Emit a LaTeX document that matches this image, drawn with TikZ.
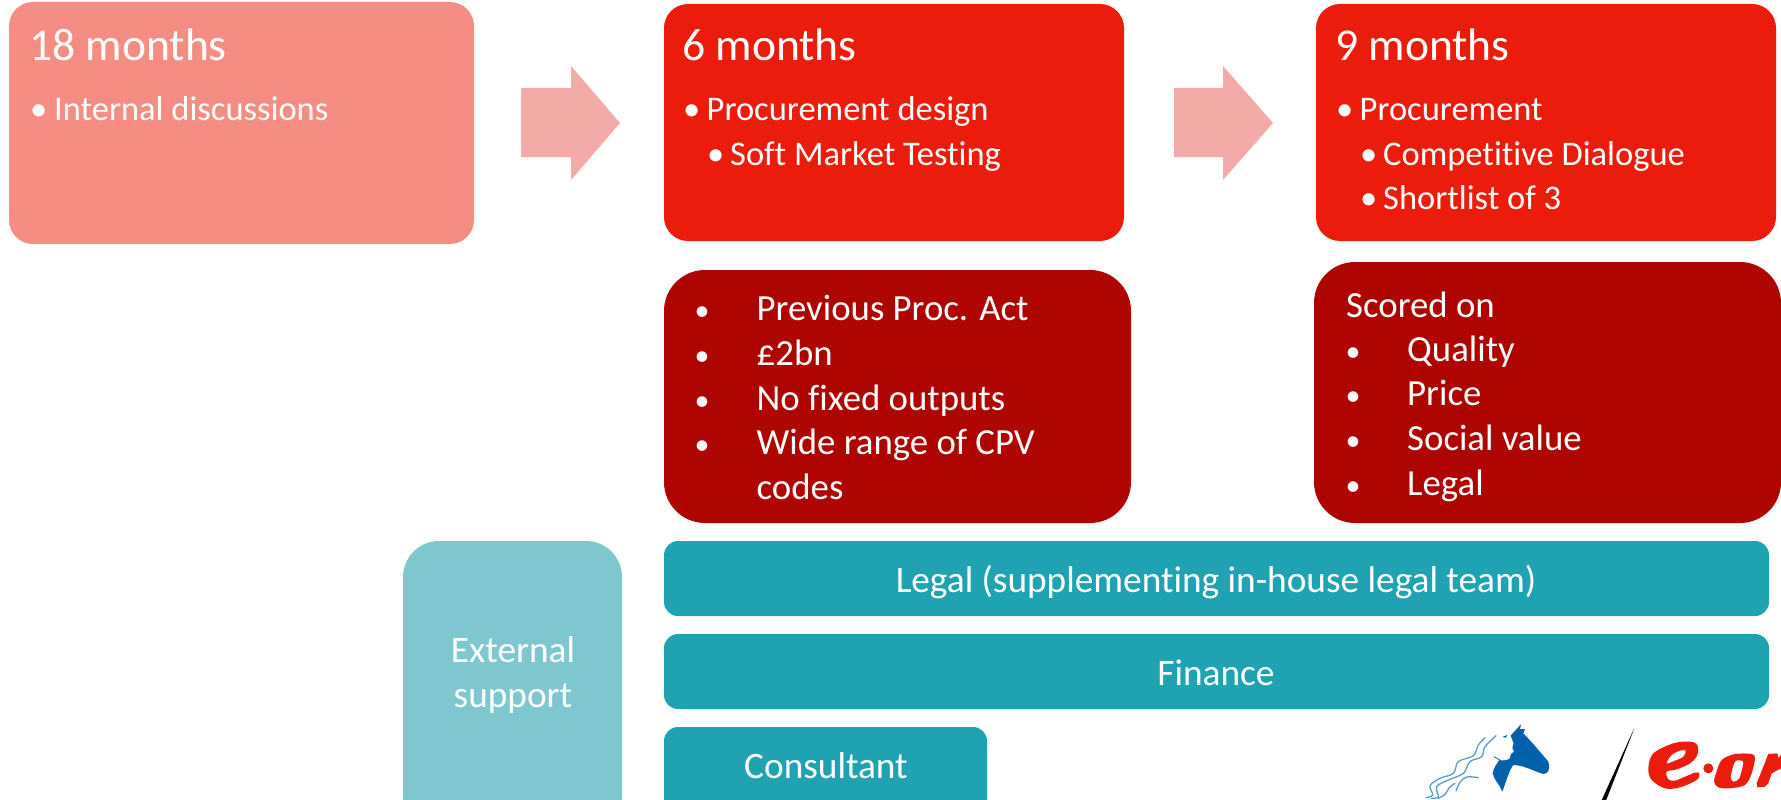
\documentclass[tikz,border=0pt]{standalone}
\usepackage{fontspec}
\setmainfont[Ligatures=NoCommon]{Carlito}
\definecolor{salmon}{HTML}{F58D83}
\definecolor{redbox}{HTML}{EB1C0C}
\definecolor{darkred}{HTML}{AF0500}
\definecolor{tealbar}{HTML}{1FA3B3}
\definecolor{lightteal}{HTML}{7FC7D0}
\definecolor{arrowpink}{HTML}{F4ABA8}
\definecolor{horseblue}{HTML}{0060A9}
\definecolor{waveblue}{HTML}{5B9BCB}
\tikzset{
  x=1pt,y=-1pt,
  boxbase/.style={inner sep=0pt,outer sep=0pt,anchor=north west},
  stepbox/.style={boxbase,rounded corners=24pt},
  notebox/.style={boxbase,fill=darkred,rounded corners=41pt},
  barbox/.style={boxbase,fill=tealbar,rounded corners=14pt},
  head/.style={inner sep=0pt,anchor=base west,text=white,font=\fontsize{45.6}{45.6}\selectfont},
  txt/.style={inner sep=0pt,anchor=base west,text=white,font=\fontsize{34.5}{34.5}\selectfont},
  bigtxt/.style={inner sep=0pt,anchor=base west,text=white,font=\fontsize{36.8}{36.8}\selectfont},
  dot/.style={inner sep=0pt,anchor=base,text=white,font=\fontsize{30}{30}\selectfont},
  ctxt/.style={inner sep=0pt,anchor=base,text=white,font=\fontsize{37.3}{37.3}\selectfont},
  flow/.style={fill=arrowpink,draw=none},
  wave/.style={draw=waveblue,line width=1.3pt,line cap=round,smooth,tension=0.6},
  logored/.style={fill=redbox,draw=none},
}
\begin{document}
\begin{tikzpicture}
\useasboundingbox (0,0) rectangle (1781,800);
\clip (0,0) rectangle (1781,800);
% boxes
\node[stepbox,fill=salmon,minimum width=465pt,minimum height=242pt] (b1) at (9,2) {};
\node[stepbox,fill=redbox,minimum width=460pt,minimum height=237pt] (b2) at (664,4) {};
\node[stepbox,fill=redbox,minimum width=460pt,minimum height=237pt] (b3) at (1316,4) {};
\node[notebox,minimum width=467pt,minimum height=253pt] (d1) at (664,270) {};
\node[notebox,minimum width=467pt,minimum height=261pt] (d2) at (1314,262) {};
\node[barbox,minimum width=1105pt,minimum height=75pt] (legal) at (664,541) {};
\node[barbox,minimum width=1105pt,minimum height=75pt] (finance) at (664,634) {};
\node[barbox,minimum width=323pt,minimum height=90pt] (cons) at (664,727) {};
\node[boxbase,fill=lightteal,rounded corners=36pt,minimum width=219pt,minimum height=290pt] (ext) at (403,541) {};
% arrows
\fill[flow] (521,88) -- (571,88) -- (571,66) -- (620,123) -- (571,180) -- (571,157) -- (521,157) -- cycle;
\fill[flow] (1174,88) -- (1223,88) -- (1223,66) -- (1273,123) -- (1223,180) -- (1223,157) -- (1174,157) -- cycle;
% text box 1
\node[head] (t1) at (29,61) {18 months};
\node[txt] (t1a) at (30,120) {•};
\node[txt] (t1b) at (54,120) {Internal discussions};
% text box 2
\node[head] (t2) at (682,61) {6 months};
\node[txt] (t2a) at (683,120) {•};
\node[txt] (t2b) at (706.5,120) {Procurement design};
\node[txt] (t2c) at (707,165) {•};
\node[txt] (t2d) at (730,165) {Soft Market Testing};
% text box 3
\node[head] (t3) at (1335,61) {9 months};
\node[txt] (t3a) at (1336,120) {•};
\node[txt] (t3b) at (1359.5,120) {Procurement};
\node[txt] (t3c) at (1360,165) {•};
\node[txt] (t3d) at (1383,165) {Competitive Dialogue};
\node[txt] (t3e) at (1360,209) {•};
\node[txt] (t3f) at (1383,209) {Shortlist of 3};
% dark 1
\foreach \n/\y/\s in {a/320/Previous Proc. Act,b/365/£2bn,c/410/No fixed outputs,d/454/Wide range of CPV}{
  \node[dot] (d1\n) at (702,\y) {•};
  \node[bigtxt] (d1t\n) at (756.5,\y) {\s};
}
\node[bigtxt] (d1e) at (756.5,499) {codes};
% dark 2
\node[bigtxt] (d2s) at (1346,317) {Scored on};
\foreach \n/\y/\s in {a/361/Quality,b/405/Price,c/450/Social value,d/495/Legal}{
  \node[dot] (d2\n) at (1353,\y) {•};
  \node[bigtxt] (d2t\n) at (1407,\y) {\s};
}
% bars
\node[ctxt] (lt) at (1216,592) {Legal (supplementing in-house legal team)};
\node[ctxt] (ft) at (1216,685) {Finance};
\node[ctxt] (ct) at (826,778) {Consultant};
\node[ctxt] (e1) at (513,662) {External};
\node[ctxt] (e2) at (513,707) {support};
% horse logo
\begin{scope}[shift={(1420,715)},x=0.3333pt,y=-0.3333pt]
\fill[horseblue] (272,62) -- (290,42) -- (303,28) -- (300,42) -- (315,42) -- (310,55)
  .. controls (330,75) and (360,110) .. (385,140)
  .. controls (392,160) and (385,178) .. (370,177)
  .. controls (345,170) and (310,150) .. (280,150)
  .. controls (268,165) and (260,195) .. (247,230)
  .. controls (240,210) and (222,195) .. (218,175)
  .. controls (220,158) and (232,145) .. (238,135)
  .. controls (248,138) and (262,136) .. (270,130)
  -- (272,118) -- (282,110) -- (277,98) -- (281,85) -- cycle;
\fill[horseblue] (247,66) -- (262,60) -- (258,68) -- cycle;
\draw[horseblue,line width=0.7pt] (222,125) -- (240,135);
\draw[wave] plot coordinates {(18,248) (38,240) (30,212) (60,190) (100,175) (115,140) (160,122) (175,90) (195,68)};
\draw[wave] plot coordinates {(35,250) (55,245) (50,215) (85,195) (130,175) (150,140) (185,125) (195,95) (228,62)};
\draw[wave] plot coordinates {(55,250) (75,238) (88,218) (105,205)};
\draw[wave] plot coordinates {(108,228) (120,202) (140,186) (175,188)};
\end{scope}
% slash
\begin{scope}[shift={(1590,715)},x=0.3333pt,y=-0.3333pt]
\fill[black] (133,40) -- (46,262) -- (32,262) -- (128,50) -- cycle;
\end{scope}
% e.on logo
\begin{scope}[shift={(1640,730)},x=0.3333pt,y=-0.3333pt]
\fill[logored,even odd rule] plot[smooth cycle,tension=0.55] coordinates {(25,115) (40,70) (100,40) (150,35) (172,45) (172,75) (150,100) (110,118) (80,125) (85,148) (105,152) (135,140) (165,128) (178,130) (170,150) (120,172) (75,175) (35,150)}
  plot[smooth cycle,tension=0.55] coordinates {(80,100) (95,75) (120,62) (137,62) (130,80) (105,92)};
\fill[logored] (205,115) circle[radius=15];
\fill[logored,even odd rule] plot[smooth cycle,tension=0.5] coordinates {(228,130) (245,90) (285,72) (335,72) (345,85) (335,130) (315,165) (270,175) (235,172) (222,155)}
  plot[smooth cycle,tension=0.5] coordinates {(272,140) (285,95) (305,92) (310,100) (298,145) (280,155)};
\fill[logored] (385,72) -- (412,70) -- (415,85) -- (423,75) -- (423,115) -- (395,130) -- (385,160) -- (375,170) -- (352,172) -- (350,160) -- cycle;
\end{scope}
\end{tikzpicture}
\end{document}
